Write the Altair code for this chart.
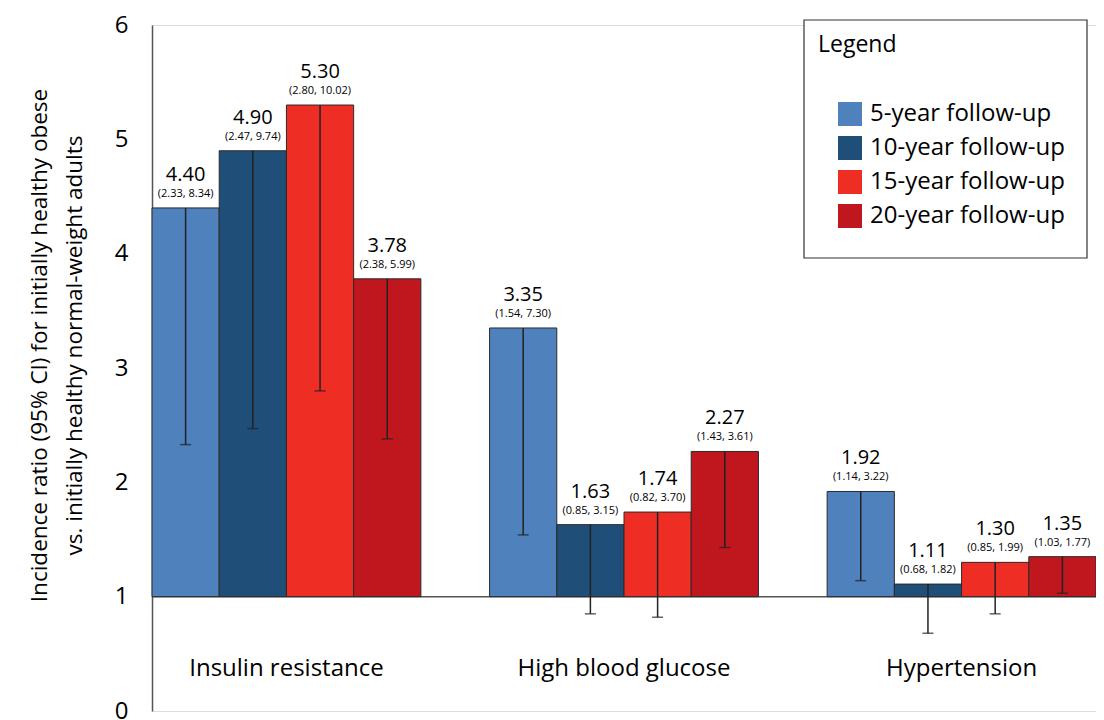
import altair as alt
import pandas as pd

conditions = ["Insulin resistance", "High blood glucose", "Hypertension"]
followups = ["5-year follow-up", "10-year follow-up", "15-year follow-up", "20-year follow-up"]
colors = ["#4F81BD", "#1F4E79", "#EE2D24", "#C0171F"]

ratio_ir = [4.40, 4.90, 5.30, 3.78]
ratio_hbg = [3.35, 1.63, 1.74, 2.27]
ratio_ht = [1.92, 1.11, 1.30, 1.35]
lower_ir = [2.33, 2.47, 2.80, 2.38]
lower_hbg = [1.54, 0.85, 0.82, 1.43]
lower_ht = [1.14, 0.68, 0.85, 1.03]
upper_ir = [8.34, 9.74, 10.02, 5.99]
upper_hbg = [7.30, 3.15, 3.70, 3.61]
upper_ht = [3.22, 1.82, 1.99, 1.77]

rows = []
for cond, rs, ls, us in zip(conditions,
                            [ratio_ir, ratio_hbg, ratio_ht],
                            [lower_ir, lower_hbg, lower_ht],
                            [upper_ir, upper_hbg, upper_ht]):
    for i, f in enumerate(followups):
        rows.append({
            "condition": cond, "followup": f, "order": i,
            "ratio": rs[i], "lower": ls[i], "upper": us[i],
            "vlabel": f"{rs[i]:.2f}",
            "cilabel": f"({ls[i]:.2f}, {us[i]:.2f})",
        })
df = pd.DataFrame(rows)

FONT = "Open Sans"
W, H = 944, 686

x = alt.X("condition:N", sort=conditions,
          scale=alt.Scale(paddingInner=0.2035, paddingOuter=0),
          axis=alt.Axis(title=None, labelAngle=0, labelFontSize=24, labelColor="#000",
                        labelFont=FONT, domain=False, ticks=False, offset=-43,
                        labelPadding=0, labelBaseline="middle", labelLimit=0))
xo = alt.XOffset("followup:N", sort=followups, scale=alt.Scale(paddingInner=0, paddingOuter=0))
yscale = alt.Scale(domain=[0, 6], nice=False, zero=True)
yaxis = alt.Axis(values=[0, 1, 2, 3, 4, 5, 6], format="d", grid=False, ticks=False,
                 labelFontSize=24, labelFont=FONT, labelColor="#000", labelPadding=24,
                 domainColor="#555", domainWidth=1.5,
                 title=["Incidence ratio (95% CI) for initially healthy obese",
                        "vs. initially healthy normal-weight adults"],
                 titleFont=FONT, titleFontSize=22.5, titleFontWeight="normal", titleColor="#000",
                 titleAngle=-90, titleX=-113, titleY=320, titleAlign="center",
                 titleBaseline="middle", titleLineHeight=35)

base = alt.Chart(df)

baseline = alt.Chart(pd.DataFrame({"v": [1]})).mark_rule(color="#555", strokeWidth=1.5).encode(
    y=alt.Y("v:Q", scale=yscale, axis=yaxis))

bars = base.mark_bar(stroke="#2a2a2a", strokeWidth=1, opacity=1).encode(
    x=x, xOffset=xo,
    y=alt.Y("ratio:Q", scale=yscale, axis=yaxis),
    y2=alt.datum(1),
    color=alt.Color("followup:N", sort=followups,
                    scale=alt.Scale(domain=followups, range=colors),
                    legend=alt.Legend(title="Legend", orient="none", legendX=666, legendY=9,
                                      titleFont=FONT, titleFontSize=23, titleFontWeight="normal",
                                      titleColor="#000", titlePadding=45,
                                      labelFont=FONT, labelFontSize=24, labelColor="#000",
                                      labelLimit=0,
                                      symbolType="square", symbolSize=576, symbolStrokeWidth=0,
                                      symbolOpacity=1, symbolOffset=20, labelOffset=8,
                                      rowPadding=10)),
)

err = base.mark_rule(color="#222", strokeWidth=1.5).encode(
    x=x, xOffset=xo, y=alt.Y("lower:Q", scale=yscale), y2="ratio:Q")
cap = base.mark_tick(color="#222", thickness=1.5, size=11, orient="horizontal").encode(
    x=x, xOffset=xo, y=alt.Y("lower:Q", scale=yscale))

vtext = base.mark_text(font=FONT, fontSize=20, color="#000", dy=-33, baseline="middle").encode(
    x=x, xOffset=xo, y=alt.Y("ratio:Q", scale=yscale), text="vlabel:N")
ctext = base.mark_text(font=FONT, fontSize=11, color="#000", dy=-14, baseline="middle").encode(
    x=x, xOffset=xo, y=alt.Y("ratio:Q", scale=yscale), text="cilabel:N")

box = alt.Chart(pd.DataFrame({"a": [0]})).mark_rect(fill="white", stroke="#333", strokeWidth=1.2).encode(
    x=alt.value(652), x2=alt.value(935), y=alt.value(-5), y2=alt.value(233))

chart = alt.layer(baseline, bars, err, cap, vtext, ctext, box).properties(
    width=W, height=H,
    autosize=alt.AutoSizeParams(type="none"),
    padding={"left": 144, "top": 17, "right": 0, "bottom": 9},
).configure_view(stroke=None).configure(background="white")

chart.save("out.html", embed_options={"renderer": "svg", "actions": False})
